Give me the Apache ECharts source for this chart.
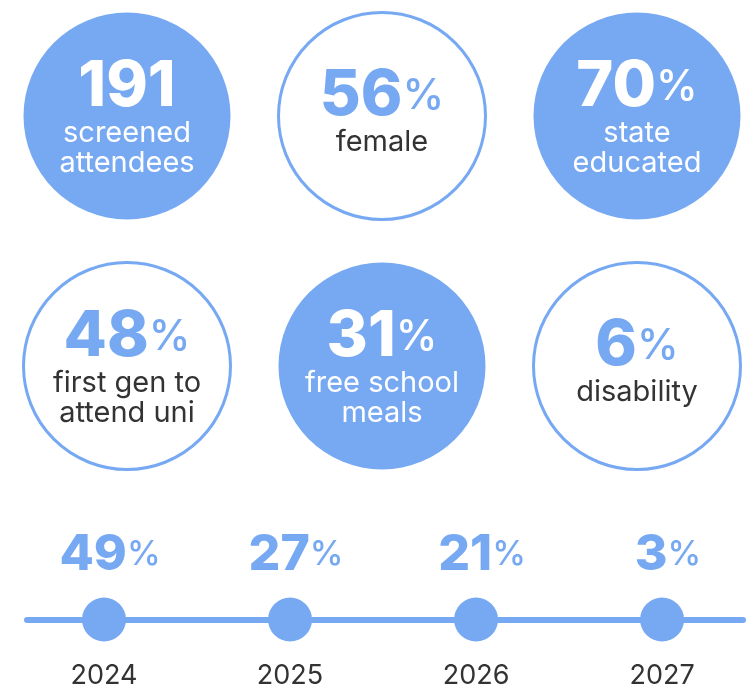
<!DOCTYPE html>
<html>
<head>
<meta charset="utf-8">
<script src="https://cdn.jsdelivr.net/npm/echarts@6/dist/echarts.min.js"></script>
<style>
  html, body { margin: 0; padding: 0; background: #fff; }
  #chart { width: 753px; height: 686px; }
</style>
</head>
<body>
<div id="chart"></div>
<script>
// stat circles, read left-to-right, top-to-bottom
const statValues = ['191', '56', '70', '48', '31', '6'];
const statSuffix = ['', '%', '%', '%', '%', '%'];
const statLabels = [
  ['screened', 'attendees'],
  ['female'],
  ['state', 'educated'],
  ['first gen to', 'attend uni'],
  ['free school', 'meals'],
  ['disability']
];
const statFilled = [true, false, true, false, true, false];

// timeline
const years = ['2024', '2025', '2026', '2027'];
const yearShares = [49, 27, 21, 3];

const blue = '#77a9f3';
const dark = '#333333';
const font = 'Inter';

const chart = echarts.init(document.getElementById('chart'));

const circleData = statValues.map((v, i) => ({
  value: [i % 3, Math.floor(i / 3)],
  itemStyle: statFilled[i]
    ? { color: blue, borderWidth: 0, opacity: 1 }
    : { color: '#fff', borderColor: blue, borderWidth: 3, opacity: 1 },
  label: {
    offset: [0, statLabels[i].length === 1 ? -5 : 1],
    formatter: () => {
      const numStyle = statFilled[i] ? 'numW' : 'numB';
      const pctStyle = statFilled[i] ? 'pctW' : 'pctB';
      const labStyle = statFilled[i] ? 'labW' : 'labD';
      let s = '{' + numStyle + '|' + v + '}';
      if (statSuffix[i]) s += '{' + pctStyle + '|' + statSuffix[i] + '}';
      statLabels[i].forEach(l => { s += '\n{' + labStyle + '|' + l + '}'; });
      return s;
    }
  }
}));

const numBase = { fontFamily: font, fontSize: 63, fontWeight: 800, lineHeight: 62 };
const pctBase = { fontFamily: font, fontSize: 42, fontWeight: 500, lineHeight: 62 };
const labBase = { fontFamily: font, fontSize: 29, fontWeight: 400, lineHeight: 30 };

const option = {
  animation: false,
  grid: [
    { left: 127, width: 510, top: 116, height: 250 },
    { left: 27, width: 716, top: 519.5, height: 100 }
  ],
  xAxis: [
    { gridIndex: 0, type: 'value', min: 0, max: 2, show: false },
    {
      gridIndex: 1, type: 'value', min: -0.414, max: 3.435,
      axisLine: { show: true, lineStyle: { color: blue, width: 6 } },
      axisTick: { show: false }, axisLabel: { show: false }, splitLine: { show: false }
    }
  ],
  yAxis: [
    { gridIndex: 0, type: 'value', min: 0, max: 1, inverse: true, show: false },
    { gridIndex: 1, type: 'value', min: 0, max: 1, show: false }
  ],
  series: [
    {
      type: 'scatter',
      xAxisIndex: 0, yAxisIndex: 0,
      symbol: 'circle',
      symbolSize: 207,
      silent: true,
      data: circleData,
      label: {
        show: true,
        position: 'inside',
        align: 'center',
        rich: {
          numW: Object.assign({ color: '#fff' }, numBase),
          numB: Object.assign({ color: blue }, numBase),
          pctW: Object.assign({ color: '#fff' }, pctBase),
          pctB: Object.assign({ color: blue }, pctBase),
          labW: Object.assign({ color: '#fff' }, labBase),
          labD: Object.assign({ color: dark }, labBase)
        }
      }
    },
    {
      // dots with year labels
      type: 'scatter',
      xAxisIndex: 1, yAxisIndex: 1,
      symbolSize: 44,
      silent: true,
      itemStyle: { color: blue, opacity: 1 },
      z: 5,
      data: years.map((y, i) => [i, 0]),
      label: {
        show: true,
        position: 'bottom',
        distance: 21,
        formatter: p => years[p.dataIndex],
        fontFamily: font,
        fontSize: 27,
        color: dark
      }
    },
    {
      // share labels above the dots
      type: 'scatter',
      xAxisIndex: 1, yAxisIndex: 1,
      symbolSize: 44,
      silent: true,
      itemStyle: { color: 'rgba(0,0,0,0)', opacity: 1 },
      data: yearShares.map((v, i) => [i, 0]),
      label: {
        show: true,
        position: 'top',
        distance: 18,
        offset: [6, 0],
        formatter: p => '{n|' + yearShares[p.dataIndex] + '}{p|%}',
        rich: {
          n: { fontFamily: font, fontSize: 50, fontWeight: 800, color: blue, lineHeight: 50 },
          p: { fontFamily: font, fontSize: 34, fontWeight: 500, color: blue, lineHeight: 50 }
        }
      }
    }
  ]
};

chart.setOption(option);
window.addEventListener('resize', () => chart.resize());
</script>
</body>
</html>
